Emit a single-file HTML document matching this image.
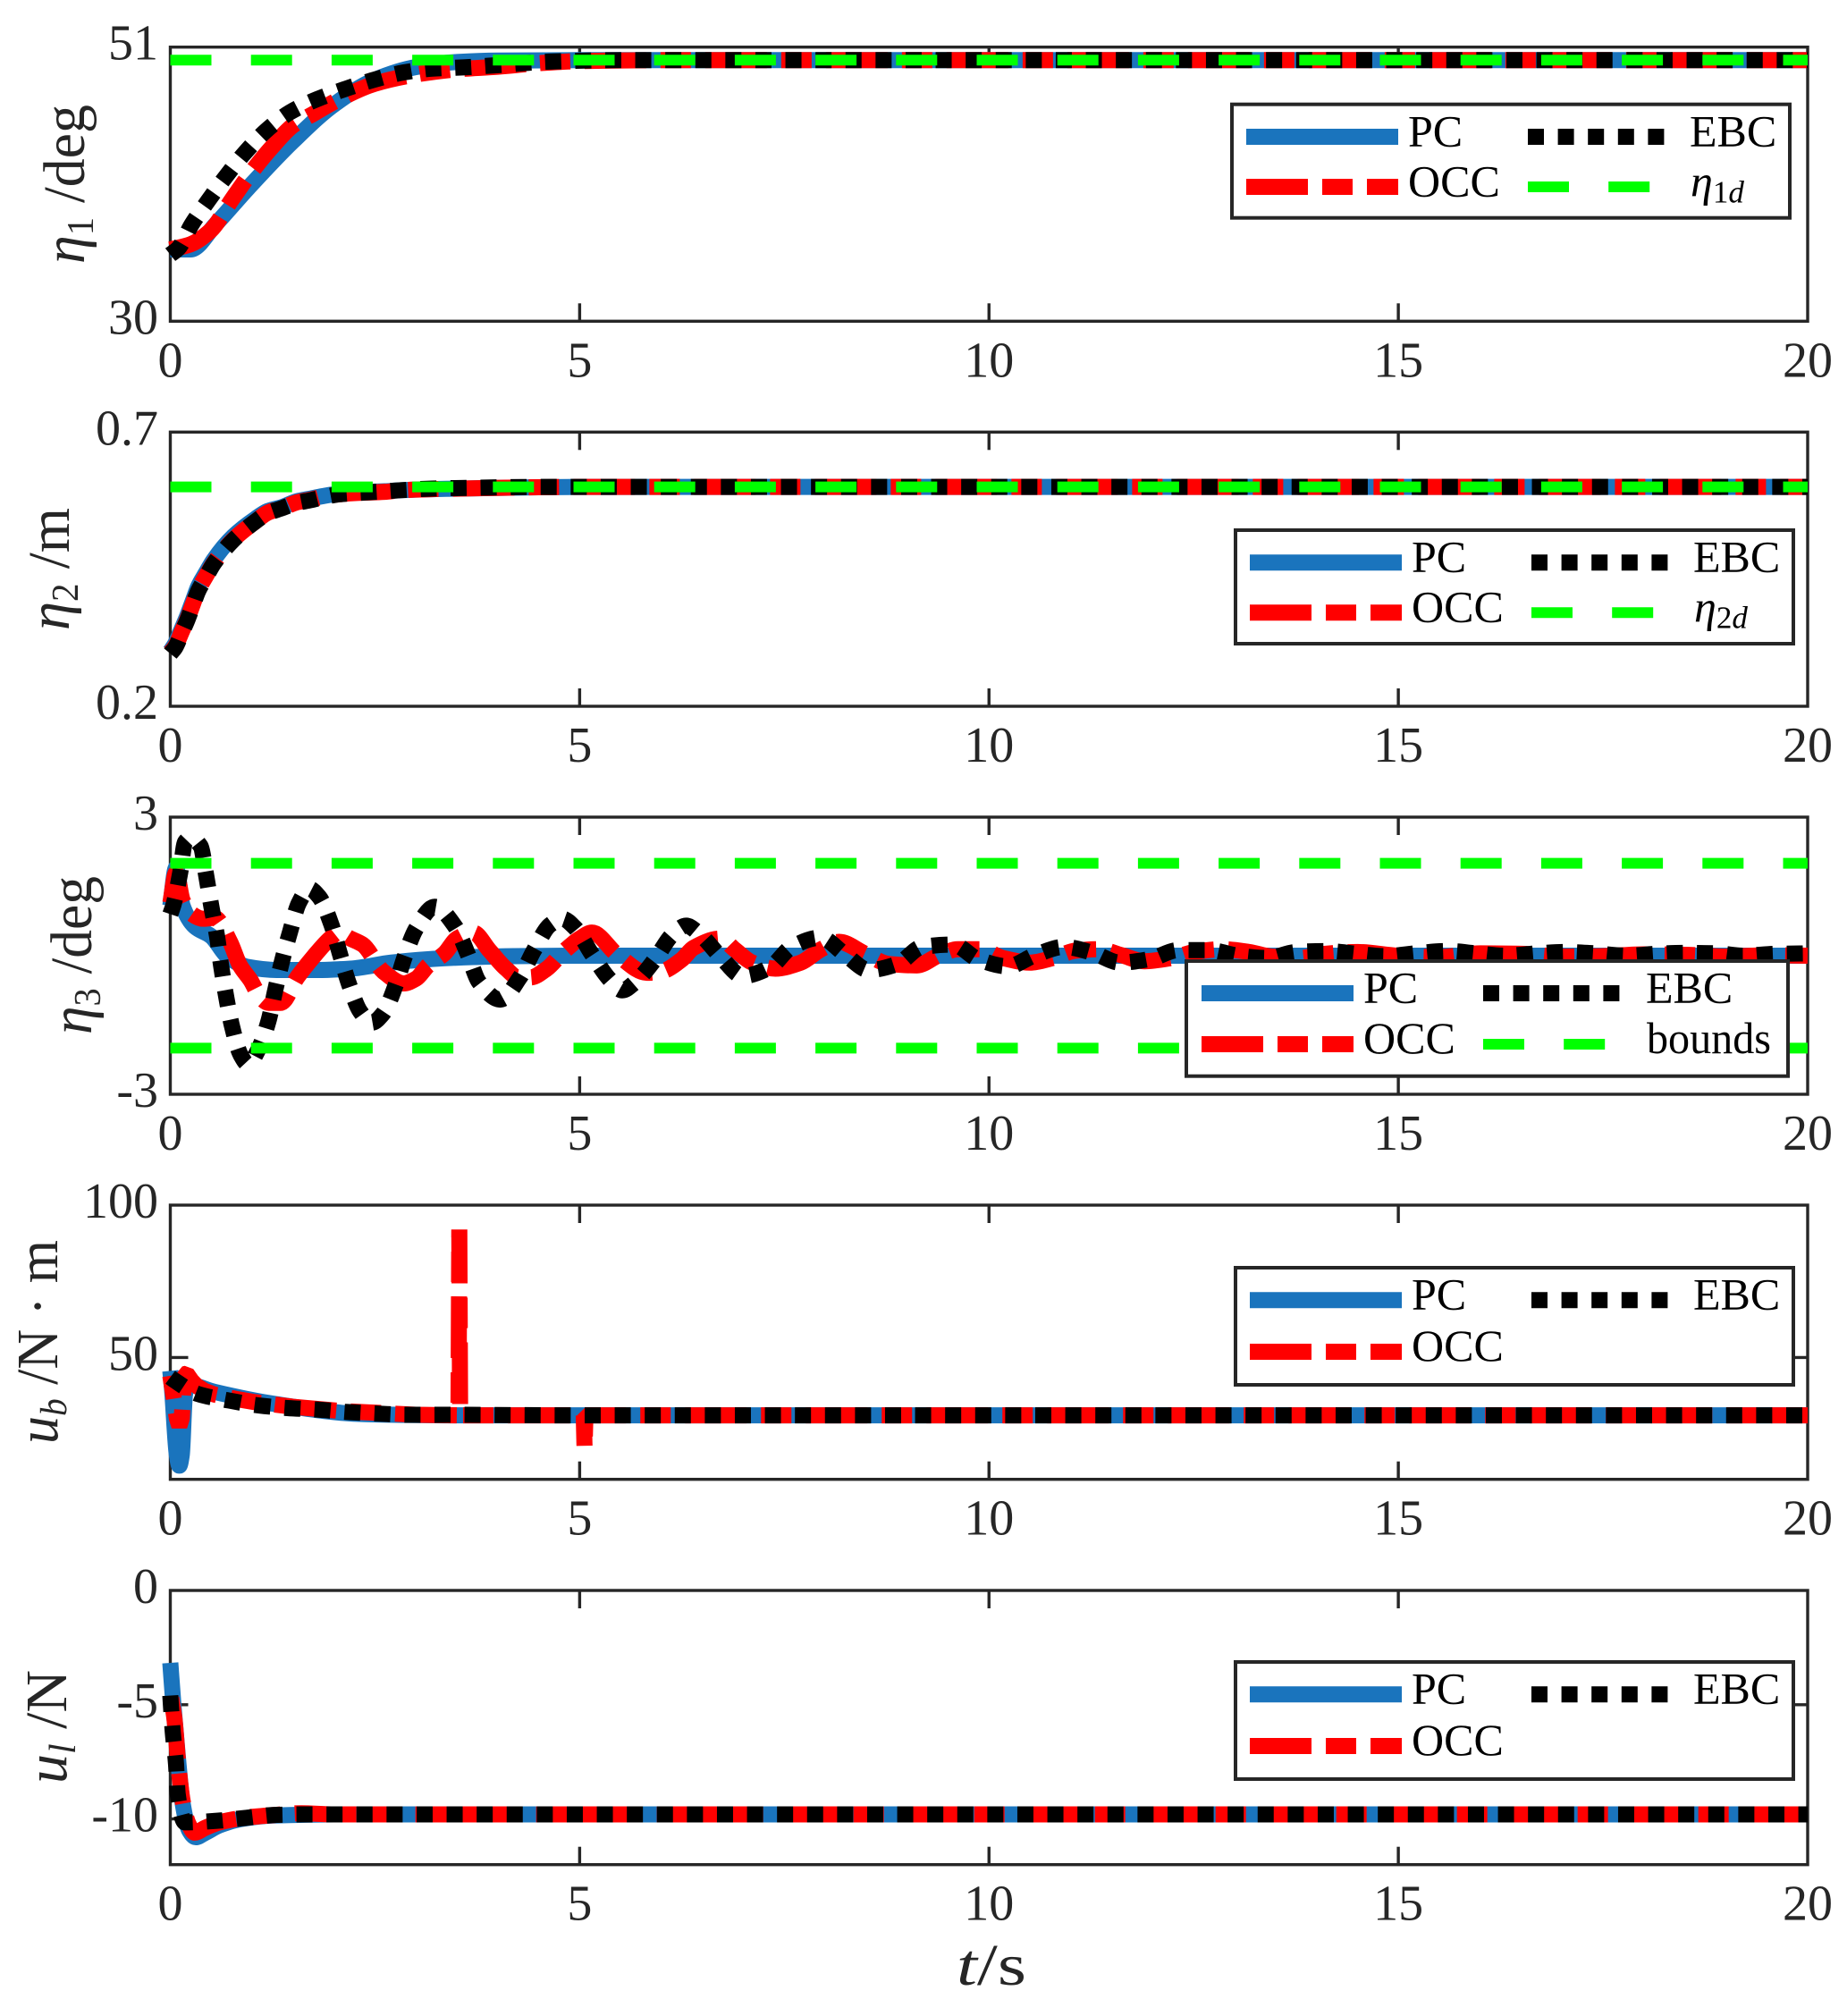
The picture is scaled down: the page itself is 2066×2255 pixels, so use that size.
<!DOCTYPE html>
<html lang="en">
<head>
<meta charset="utf-8">
<title>Controller comparison time histories</title>
<style>
html,body{margin:0;padding:0;background:#fff;}
svg{display:block;font-family:"Liberation Serif","DejaVu Serif",serif;}
.pc,.occ,.ebc,.ref{fill:none;stroke-linecap:butt;stroke-linejoin:round;}
.pc{stroke:#1a74bd;stroke-width:18;}
.occ{stroke:#ff0000;stroke-width:18;stroke-dasharray:69 16 34 16;}
.ebc{stroke:#000;stroke-width:18;stroke-dasharray:18 15.6;}
.ref{stroke:#00ff00;stroke-width:12;stroke-dasharray:46 44.2;}
.box{fill:none;stroke:#262626;stroke-width:3.4;}
.tick{stroke:#262626;stroke-width:3.4;}
.ticklabel{font-size:56px;fill:#262626;}
.axtitle{font-size:66px;fill:#262626;}
.lbox{fill:#fff;stroke:#262626;stroke-width:4;}
.ltext{font-size:50px;fill:#000;}
</style>
</head>
<body>
<svg id="figure" xmlns="http://www.w3.org/2000/svg" width="2066" height="2255" viewBox="0 0 2066 2255">
<rect width="2066" height="2255" fill="#fff"/>
<g id="plot-layer"></g>

<text class="axtitle" transform="translate(94,295) rotate(-90)" textLength="178" lengthAdjust="spacingAndGlyphs"><tspan font-style="italic">η</tspan><tspan font-size="42" dy="10">1</tspan><tspan dy="-10"> /deg</tspan></text>
<text class="axtitle" transform="translate(77,705) rotate(-90)" textLength="137" lengthAdjust="spacingAndGlyphs"><tspan font-style="italic">η</tspan><tspan font-size="42" dy="10">2</tspan><tspan dy="-10"> /m</tspan></text>
<text class="axtitle" transform="translate(102,1157) rotate(-90)" textLength="177" lengthAdjust="spacingAndGlyphs"><tspan font-style="italic">η</tspan><tspan font-size="42" dy="10">3</tspan><tspan dy="-10"> /deg</tspan></text>
<text class="axtitle" transform="translate(64,1615) rotate(-90)" textLength="228" lengthAdjust="spacingAndGlyphs"><tspan font-style="italic">u</tspan><tspan font-size="42" font-style="italic" dy="10">b</tspan><tspan dy="-10"> /N · m</tspan></text>
<text class="axtitle" transform="translate(74,1995) rotate(-90)" textLength="127" lengthAdjust="spacingAndGlyphs"><tspan font-style="italic">u</tspan><tspan font-size="42" font-style="italic" dy="10">l</tspan><tspan dy="-10"> /N</tspan></text>
<text class="axtitle" x="1070" y="2220" textLength="78" lengthAdjust="spacingAndGlyphs"><tspan font-style="italic">t</tspan>/s</text>

<g transform="translate(1378,116.7)">
  <rect class="lbox" width="624" height="127"/>
  <line class="pc" x1="16" x2="186" y1="36.3" y2="36.3"/>
  <text class="ltext" x="197" y="46.6">PC</text>
  <line class="ebc" x1="331" x2="499" y1="36.3" y2="36.3"/>
  <text class="ltext" x="512" y="46.6">EBC</text>
  <line class="occ" x1="16" x2="186" y1="92.3" y2="92.3"/>
  <text class="ltext" x="197" y="102.6">OCC</text>
  <line class="ref" x1="331" x2="501" y1="92.3" y2="92.3"/>
  <text class="ltext" x="513" y="102.6"><tspan font-style="italic">η</tspan><tspan font-size="35" dy="7">1</tspan><tspan font-size="35" font-style="italic">d</tspan></text>
</g>

<g transform="translate(1382,593)">
  <rect class="lbox" width="624" height="127"/>
  <line class="pc" x1="16" x2="186" y1="36.3" y2="36.3"/>
  <text class="ltext" x="197" y="46.6">PC</text>
  <line class="ebc" x1="331" x2="499" y1="36.3" y2="36.3"/>
  <text class="ltext" x="512" y="46.6">EBC</text>
  <line class="occ" x1="16" x2="186" y1="92.3" y2="92.3"/>
  <text class="ltext" x="197" y="102.6">OCC</text>
  <line class="ref" x1="331" x2="501" y1="92.3" y2="92.3"/>
  <text class="ltext" x="513" y="102.6"><tspan font-style="italic">η</tspan><tspan font-size="35" dy="7">2</tspan><tspan font-size="35" font-style="italic">d</tspan></text>
</g>

<g transform="translate(1327,1075)">
  <rect class="lbox" width="673" height="128.7"/>
  <line class="pc" x1="17" x2="187" y1="36" y2="36"/>
  <text class="ltext" x="198" y="46.6">PC</text>
  <line class="ebc" x1="332" x2="500" y1="36" y2="36"/>
  <text class="ltext" x="514" y="46.6">EBC</text>
  <line class="occ" x1="17" x2="187" y1="93" y2="93"/>
  <text class="ltext" x="198" y="103">OCC</text>
  <line class="ref" x1="332" x2="502" y1="93" y2="93"/>
  <text class="ltext" x="515" y="103" textLength="139" lengthAdjust="spacingAndGlyphs">bounds</text>
</g>

<g transform="translate(1382,1418)">
  <rect class="lbox" width="624" height="131"/>
  <line class="pc" x1="16" x2="186" y1="36.3" y2="36.3"/>
  <text class="ltext" x="197" y="46.6">PC</text>
  <line class="ebc" x1="331" x2="499" y1="36.3" y2="36.3"/>
  <text class="ltext" x="512" y="46.6">EBC</text>
  <line class="occ" x1="16" x2="186" y1="94" y2="94"/>
  <text class="ltext" x="197" y="104">OCC</text>
</g>

<g transform="translate(1382,1859)">
  <rect class="lbox" width="624" height="131"/>
  <line class="pc" x1="16" x2="186" y1="36.3" y2="36.3"/>
  <text class="ltext" x="197" y="46.6">PC</text>
  <line class="ebc" x1="331" x2="499" y1="36.3" y2="36.3"/>
  <text class="ltext" x="512" y="46.6">EBC</text>
  <line class="occ" x1="16" x2="186" y1="94" y2="94"/>
  <text class="ltext" x="197" y="104">OCC</text>
</g>
</svg>

<script>
// Shared axis values
const xTicks = [0, 5, 10, 15, 20];
const xLimits = [0, 20];

// Panel 1: eta1 (deg)
const eta1Limits = [30, 51];
const eta1Ticks = [30, 51];
const eta1TimePC = [0, 0.25, 0.55, 0.95, 1.5, 2, 2.5, 3, 3.5, 4, 5, 20];
const eta1PC = [35.5, 35.5, 37.4, 40.2, 43.8, 46.6, 48.5, 49.47, 49.86, 49.97, 50, 50];
const eta1TimeOCC = [0, 0.25, 0.5, 0.75, 1, 1.25, 1.5, 1.75, 2, 2.5, 3, 3.5, 4, 4.5, 5, 6, 20];
const eta1OCC = [35.5, 35.9, 37, 39.3, 41.5, 43.4, 45, 45.9, 46.8, 48.2, 48.9, 49.3, 49.5, 49.77, 49.93, 50, 50];
const eta1TimeEBC = [0, 0.1, 0.26, 0.47, 0.68, 0.91, 1.17, 1.46, 1.79, 2.14, 2.49, 2.85, 3.2, 3.58, 3.96, 4.68, 5.5, 20];
const eta1EBC = [35.1, 35.6, 37.4, 39.3, 41.1, 42.9, 44.6, 46, 47, 47.8, 48.5, 49.06, 49.35, 49.45, 49.6, 49.9, 50, 50];
const eta1Ref = [50];

// Panel 2: eta2 (m)
const eta2Limits = [0.2, 0.7];
const eta2Ticks = [0.2, 0.7];
const eta2Labels = ['0.2', '0.7'];
const eta2Time = [0, 0.06, 0.14, 0.21, 0.28, 0.34, 0.43, 0.53, 0.77, 1.04, 1.19, 1.36, 1.55, 1.72, 1.89, 2.09, 2.28, 2.62, 2.82, 3.2, 3.55, 4.5, 5, 20];
const eta2PC = [0.3, 0.314, 0.341, 0.366, 0.394, 0.418, 0.442, 0.467, 0.51, 0.542, 0.556, 0.563, 0.574, 0.579, 0.584, 0.588, 0.59, 0.592, 0.594, 0.596, 0.597, 0.5995, 0.6, 0.6];
const eta2OCC = [0.298, 0.309, 0.336, 0.36, 0.388, 0.412, 0.436, 0.461, 0.504, 0.537, 0.553, 0.561, 0.572, 0.577, 0.583, 0.587, 0.589, 0.591, 0.594, 0.596, 0.597, 0.5995, 0.6, 0.6];
const eta2EBC = [0.296, 0.307, 0.334, 0.358, 0.386, 0.41, 0.434, 0.46, 0.503, 0.537, 0.552, 0.561, 0.571, 0.576, 0.582, 0.587, 0.589, 0.592, 0.594, 0.597, 0.598, 0.6, 0.6, 0.6];
const eta2Ref = [0.6];

// Panel 3: eta3 (deg)
const eta3Limits = [-3, 3];
const eta3Ticks = [-3, 3];
const eta3TimePC = [0, 0.07, 0.15, 0.3, 0.5, 0.7, 0.95, 1.3, 1.8, 2.2, 2.7, 3.2, 3.7, 4.2, 5, 20];
const eta3PC = [1.08, 1.9, 1.08, 0.63, 0.42, -0.02, -0.245, -0.31, -0.31, -0.28, -0.15, -0.07, -0.03, -0.01, 0, 0];
const eta3TimeOCC = [0, 0.07, 0.15, 0.25, 0.4, 0.54, 0.73, 0.85, 0.98, 1.1, 1.2, 1.35, 1.55, 1.75, 1.95, 2.05, 2.2, 2.35, 2.6, 2.85, 3.0, 3.15, 3.35, 3.5, 3.7, 3.9, 4.1, 4.25, 4.4, 4.6, 4.8, 5.0, 5.15, 5.46, 5.82, 6, 6.25, 6.39, 6.72, 6.89, 7.11, 7.39, 7.7, 7.95, 8.17, 8.48, 8.78, 9.12, 9.39, 9.62, 9.89, 10.17, 10.5, 10.78, 11.06, 11.34, 11.62, 11.9, 12.23, 12.51, 12.84, 13.18, 13.45, 13.8, 14.1, 14.5, 15, 15.5, 16, 16.5, 17, 17.5, 18, 18.5, 19, 19.5, 20];
const eta3OCC = [1.14, 1.79, 1.2, 0.92, 0.8, 0.82, 0.3, -0.21, -0.53, -0.9, -1.02, -1.02, -0.47, -0.02, 0.37, 0.5, 0.37, 0.24, -0.34, -0.6, -0.5, -0.21, 0.05, 0.37, 0.5, 0.11, -0.28, -0.47, -0.47, -0.28, 0.08, 0.37, 0.5, 0.02, -0.37, -0.34, -0.08, 0.17, 0.37, 0.14, -0.15, -0.28, -0.15, 0.14, 0.3, 0.05, -0.18, -0.21, 0.01, 0.14, 0.14, -0.05, -0.15, -0.05, 0.11, 0.14, 0.01, -0.12, -0.05, 0.08, 0.14, 0.08, -0.02, -0.05, 0.04, 0.08, 0, -0.03, 0.05, 0.04, -0.02, -0.01, 0.03, 0.02, -0.02, 0.01, 0];
const eta3TimeEBC = [0, 0.04, 0.12, 0.18, 0.25, 0.37, 0.44, 0.5, 0.57, 0.62, 0.68, 0.75, 0.86, 0.95, 1.07, 1.2, 1.28, 1.36, 1.46, 1.57, 1.7, 1.82, 1.97, 2.07, 2.18, 2.32, 2.46, 2.6, 2.75, 2.86, 3.0, 3.23, 3.48, 3.63, 3.77, 4.03, 4.27, 4.44, 4.64, 4.79, 4.94, 5.14, 5.36, 5.52, 5.68, 5.92, 6.13, 6.3, 6.47, 6.72, 6.99, 7.32, 7.59, 7.94, 8.24, 8.53, 8.88, 9.18, 9.56, 9.87, 10.23, 10.56, 10.91, 11.27, 11.6, 11.97, 12.31, 12.69, 13.05, 13.4, 13.75, 14.12, 14.5, 14.84, 15.2, 15.6, 15.96, 16.3, 16.7, 17.05, 17.4, 17.8, 18.15, 18.5, 18.9, 19.2, 19.6, 20];
const eta3EBC = [0.9, 1.11, 1.79, 2.46, 2.55, 2.37, 1.72, 1.08, 0.43, -0.21, -0.86, -1.5, -2.15, -2.35, -2.05, -1.41, -0.76, -0.15, 0.5, 1.14, 1.45, 1.27, 0.66, 0.05, -0.6, -1.21, -1.45, -1.25, -0.65, -0.04, 0.58, 1.06, 0.63, 0.05, -0.57, -0.95, -0.47, 0.11, 0.67, 0.8, 0.61, 0.06, -0.5, -0.75, -0.57, -0.08, 0.45, 0.65, 0.46, -0.02, -0.44, -0.26, 0.19, 0.39, 0.03, -0.31, -0.18, 0.19, 0.24, -0.08, -0.23, 0.01, 0.19, 0.06, -0.15, -0.07, 0.12, 0.12, 0, -0.05, 0.08, 0.1, 0.04, -0.01, 0.05, 0.1, 0.05, 0, 0.05, 0.08, 0.05, 0, 0.04, 0.06, 0.05, 0, 0.04, 0.05];
const eta3UpperBound = [2];
const eta3LowerBound = [-2];

// Panel 4: ub (N*m)
const ubLimits = [10, 100];
const ubTicks = [50, 100];
const ubTimePC = [0, 0.02, 0.08, 0.11, 0.14, 0.18, 0.22, 0.54, 1.26, 2.37, 3.5, 5, 20];
const ubPC = [45.6, 40, 18, 14.5, 18, 38, 41, 38.7, 34.8, 31.4, 31, 31, 31];
const ubTimeOCC = [0, 0.08, 0.11, 0.14, 0.17, 0.2, 0.26, 0.32, 0.42, 0.54, 0.8, 1.04, 1.5, 2.1, 3.0, 3.52, 3.53, 3.54, 5.05, 5.06, 5.07, 20];
const ubOCC = [44, 30, 27.5, 30, 44.5, 44.7, 42.4, 40.7, 39, 37.8, 36.4, 35.3, 33.8, 32.4, 31.2, 31, 92, 31, 31, 20.2, 31, 31];
const ubTimeEBC = [0, 0.04, 0.34, 0.69, 1.07, 1.43, 1.79, 2.16, 2.52, 2.89, 3.26, 5, 20];
const ubEBC = [43.5, 42.7, 38, 36, 34.3, 33.4, 32.9, 32.1, 31.6, 31.2, 31.2, 31, 31];

// Panel 5: ul (N)
const ulLimits = [-12, 0];
const ulTicks = [-10, -5, 0];
const ulTimePC = [0, 0.04, 0.1, 0.15, 0.23, 0.31, 0.43, 0.6, 0.87, 1.26, 2, 20];
const ulPC = [-3.17, -5.1, -7.6, -9.3, -10.5, -10.8, -10.6, -10.28, -10, -9.85, -9.8, -9.8];
const ulTimeOCC = [0.01, 0.05, 0.1, 0.15, 0.22, 0.3, 0.42, 0.6, 0.9, 1.3, 1.6, 2, 20];
const ulOCC = [-4.7, -5.6, -7.7, -9.2, -10.2, -10.6, -10.4, -10.15, -9.95, -9.82, -9.75, -9.8, -9.8];
const ulTimeEBC = [0, 0.03, 0.07, 0.09, 0.18, 0.57, 0.93, 1.3, 1.68, 20];
const ulEBC = [-4.6, -6.2, -7.6, -8.9, -10.15, -10.08, -9.95, -9.82, -9.8, -9.8];

// Layout (pixels)
const plotLeft = 190.5;
const plotRight = 2022;
const tickLength = 20;
const occPatternLength = 135;
const layer = document.getElementById('plot-layer');
const svgNS = 'http://www.w3.org/2000/svg';

function xScale(t) {
  return plotLeft + (t - xLimits[0]) / (xLimits[1] - xLimits[0]) * (plotRight - plotLeft);
}
function makeYScale(limits, top, bottom) {
  return function (v) {
    return bottom - (v - limits[0]) / (limits[1] - limits[0]) * (bottom - top);
  };
}
function make(tag, parent) {
  const el = document.createElementNS(svgNS, tag);
  parent.appendChild(el);
  return el;
}
// Monotone cubic path through the read data points
function curvePath(ts, vs, yScale) {
  const xs = ts.map(xScale);
  const ys = vs.map(yScale);
  const n = xs.length;
  const d = [];
  for (let i = 0; i < n - 1; i++) d.push((ys[i + 1] - ys[i]) / (xs[i + 1] - xs[i]));
  const m = [d[0]];
  for (let i = 1; i < n - 1; i++) {
    if (d[i - 1] * d[i] <= 0) { m.push(0); continue; }
    const h0 = xs[i] - xs[i - 1];
    const h1 = xs[i + 1] - xs[i];
    m.push(3 * (h0 + h1) / ((2 * h1 + h0) / d[i - 1] + (h1 + 2 * h0) / d[i]));
  }
  m.push(d[n - 2]);
  let path = 'M' + xs[0].toFixed(2) + ' ' + ys[0].toFixed(2);
  for (let i = 0; i < n - 1; i++) {
    const h = (xs[i + 1] - xs[i]) / 3;
    path += 'C' + (xs[i] + h).toFixed(2) + ' ' + (ys[i] + m[i] * h).toFixed(2) + ' ' +
      (xs[i + 1] - h).toFixed(2) + ' ' + (ys[i + 1] - m[i + 1] * h).toFixed(2) + ' ' +
      xs[i + 1].toFixed(2) + ' ' + ys[i + 1].toFixed(2);
  }
  return path;
}
// Straight segments, used where the signal has sharp spikes
function polyPath(ts, vs, yScale) {
  return ts.map(function (t, i) {
    return (i ? 'L' : 'M') + xScale(t).toFixed(2) + ' ' + yScale(vs[i]).toFixed(2);
  }).join('');
}

function drawAxes(group, panelId, top, bottom, yScale, yTicks, yLabels) {
  const frame = make('rect', group);
  
  
  frame.setAttribute('class', 'box');
  frame.setAttribute('x', plotLeft);
  frame.setAttribute('y', top);
  frame.setAttribute('width', plotRight - plotLeft);
  frame.setAttribute('height', bottom - top);

  xTicks.forEach(function (t) {
    const x = xScale(t);
    if (t > xLimits[0] && t < xLimits[1]) {
      [[bottom, bottom - tickLength], [top, top + tickLength]].forEach(function (pair) {
        const mark = make('line', group);
        
        
        mark.setAttribute('class', 'tick');
        mark.setAttribute('x1', x);
        mark.setAttribute('x2', x);
        mark.setAttribute('y1', pair[0]);
        mark.setAttribute('y2', pair[1]);
      });
    }
    const label = make('text', group);
    
    
    label.setAttribute('class', 'ticklabel');
    label.setAttribute('x', x);
    label.setAttribute('y', bottom + 62);
    label.setAttribute('text-anchor', 'middle');
    label.textContent = String(t);
  });

  yTicks.forEach(function (v, i) {
    const y = yScale(v);
    const isInner = y > top + 1 && y < bottom - 1;
    if (isInner) {
      [[plotLeft, plotLeft + tickLength], [plotRight, plotRight - tickLength]].forEach(function (pair) {
        const mark = make('line', group);
        
        
        mark.setAttribute('class', 'tick');
        mark.setAttribute('x1', pair[0]);
        mark.setAttribute('x2', pair[1]);
        mark.setAttribute('y1', y);
        mark.setAttribute('y2', y);
      });
    }
    const label = make('text', group);
    
    
    label.setAttribute('class', 'ticklabel');
    label.setAttribute('x', 177);
    label.setAttribute('y', y + 14);
    label.setAttribute('text-anchor', 'end');
    label.textContent = yLabels ? yLabels[i] : String(v);
  });
}

function drawCurve(group, cls, name, ts, vs, yScale) {
  const line = make('path', group);
  
  
  line.setAttribute('class', cls);
  line.setAttribute('d', curvePath(ts, vs, yScale));
  return line;
}

function drawLevel(group, name, value, yScale) {
  const line = make('line', group);
  
  
  line.setAttribute('class', 'ref');
  line.setAttribute('x1', xScale(xLimits[0]));
  line.setAttribute('x2', xScale(xLimits[1]));
  line.setAttribute('y1', yScale(value));
  line.setAttribute('y2', yScale(value));
}

function makePanel(panelId, top, bottom, limits, ticks, labels) {
  const group = make('g', layer);
  
  
  const yScale = makeYScale(limits, top, bottom);
  drawAxes(group, panelId, top, bottom, yScale, ticks, labels);
  return { group: group, y: yScale };
}

const p1 = makePanel('eta1', 52.7, 359.3, eta1Limits, eta1Ticks);
drawCurve(p1.group, 'pc', 'eta1-series-pc', eta1TimePC, eta1PC, p1.y);
drawCurve(p1.group, 'occ', 'eta1-series-occ', eta1TimeOCC, eta1OCC, p1.y);
drawCurve(p1.group, 'ebc', 'eta1-series-ebc', eta1TimeEBC, eta1EBC, p1.y);
drawLevel(p1.group, 'eta1-reference-line', eta1Ref[0], p1.y);

const p2 = makePanel('eta2', 483.3, 790, eta2Limits, eta2Ticks, eta2Labels);
drawCurve(p2.group, 'pc', 'eta2-series-pc', eta2Time, eta2PC, p2.y);
drawCurve(p2.group, 'occ', 'eta2-series-occ', eta2Time, eta2OCC, p2.y);
drawCurve(p2.group, 'ebc', 'eta2-series-ebc', eta2Time, eta2EBC, p2.y);
drawLevel(p2.group, 'eta2-reference-line', eta2Ref[0], p2.y);

const p3 = makePanel('eta3', 914, 1224, eta3Limits, eta3Ticks);
drawCurve(p3.group, 'pc', 'eta3-series-pc', eta3TimePC, eta3PC, p3.y);
drawCurve(p3.group, 'occ', 'eta3-series-occ', eta3TimeOCC, eta3OCC, p3.y);
drawCurve(p3.group, 'ebc', 'eta3-series-ebc', eta3TimeEBC, eta3EBC, p3.y);
drawLevel(p3.group, 'eta3-upper-bound', eta3UpperBound[0], p3.y);
drawLevel(p3.group, 'eta3-lower-bound', eta3LowerBound[0], p3.y);

const p4 = makePanel('ub', 1348, 1654.7, ubLimits, ubTicks);
drawCurve(p4.group, 'pc', 'ub-series-pc', ubTimePC, ubPC, p4.y);
const ubOccLine = drawCurve(p4.group, 'occ', 'ub-series-occ', ubTimeOCC, ubOCC, p4.y);
ubOccLine.setAttribute('d', polyPath(ubTimeOCC, ubOCC, p4.y));
ubOccLine.style.strokeLinejoin = 'bevel';
// Align the dash pattern with the spike so its gap falls where the signal shows it
let apexLength = 0;
let apexY = Infinity;
const ubOccLength = ubOccLine.getTotalLength();
for (let s = 0; s < ubOccLength; s += 1) {
  const pt = ubOccLine.getPointAtLength(s);
  if (pt.y < apexY) { apexY = pt.y; apexLength = s; }
}
ubOccLine.style.strokeDashoffset = String(9 - (apexLength % occPatternLength));
drawCurve(p4.group, 'ebc', 'ub-series-ebc', ubTimeEBC, ubEBC, p4.y);

const p5 = makePanel('ul', 1779, 2085.7, ulLimits, ulTicks);
drawCurve(p5.group, 'pc', 'ul-series-pc', ulTimePC, ulPC, p5.y);
drawCurve(p5.group, 'occ', 'ul-series-occ', ulTimeOCC, ulOCC, p5.y);
drawCurve(p5.group, 'ebc', 'ul-series-ebc', ulTimeEBC, ulEBC, p5.y);
</script>
</body>
</html>
